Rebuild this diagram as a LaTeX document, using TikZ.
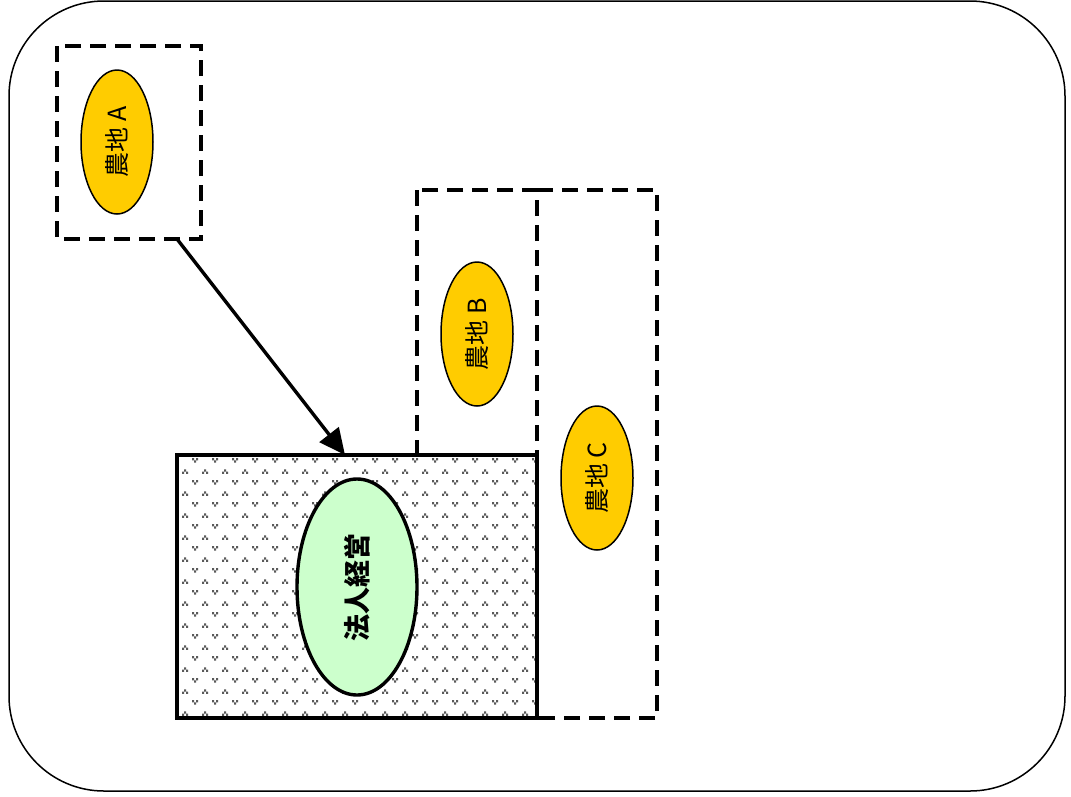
\documentclass[tikz,border=0pt]{standalone}
\usepackage{fontspec}
\newfontfamily\cjk{Noto Sans CJK JP}
\usetikzlibrary{patterns,arrows.meta,shapes.geometric}
\pgfdeclarepatternformonly{tridots}{\pgfqpoint{-1pt}{-1pt}}{\pgfqpoint{21pt}{23pt}}{\pgfqpoint{20pt}{22pt}}{%
  \pgfpathrectangle{\pgfqpoint{4pt}{16.4pt}}{\pgfqpoint{2.2pt}{2.2pt}}%
  \pgfpathrectangle{\pgfqpoint{2pt}{14.2pt}}{\pgfqpoint{2.2pt}{2.2pt}}%
  \pgfpathrectangle{\pgfqpoint{6pt}{14.2pt}}{\pgfqpoint{2.2pt}{2.2pt}}%
  \pgfpathrectangle{\pgfqpoint{12pt}{5.6pt}}{\pgfqpoint{2.2pt}{2.2pt}}%
  \pgfpathrectangle{\pgfqpoint{16pt}{5.6pt}}{\pgfqpoint{2.2pt}{2.2pt}}%
  \pgfpathrectangle{\pgfqpoint{14pt}{3.4pt}}{\pgfqpoint{2.2pt}{2.2pt}}%
  \pgfusepath{fill}}
\definecolor{farm}{HTML}{FFCC00}
\definecolor{corp}{HTML}{CCFFCC}
\tikzset{
  frame/.style={draw=black, line width=1.5pt, rounded corners=95pt},
  dashbox/.style={draw=black, line width=3.6pt, dash pattern=on 16pt off 9pt},
  farmnode/.style={ellipse, draw=black, line width=1.5pt, fill=farm, minimum width=72pt, minimum height=144pt, inner sep=0pt},
  farmtext/.style={font=\cjk\fontsize{25}{28}\selectfont, rotate=90},
  corpbox/.style={draw=black, line width=3.6pt, pattern=tridots, pattern color=black!65},
  corpnode/.style={ellipse, draw=black, line width=3.4pt, fill=corp, minimum width=120pt, minimum height=216pt, inner sep=0pt},
  corptext/.style={font=\cjk\bfseries\fontsize{27}{30}\selectfont, rotate=90},
  arr/.style={line width=3.4pt, -{Triangle[length=26pt,width=24pt]}}
}
\begin{document}
\begin{tikzpicture}[x=1pt,y=-1pt]
\useasboundingbox (0,0) rectangle (1071,796);
\fill[white] (0,0) rectangle (1071,796);
\draw[frame] (9,1) rectangle (1065,791);
% farmland A
\draw[dashbox] (57,46) rectangle (201,239);
\node[farmnode] (A) at (117,142) {};
\node[farmtext] at (A) {農地 A};
% farmland B and C boxes
\draw[dashbox] (417,190) rectangle (537,718);
\draw[dashbox] (537,190) -- (657,190) -- (657,718) -- (537,718);
\node[farmnode] (B) at (477,334) {};
\node[farmtext] at (B) {農地 B};
\node[farmnode] (C) at (597,478) {};
\node[farmtext] at (C) {農地 C};
% corporation
\fill[white] (177,455) rectangle (537,718);
\draw[corpbox] (177,455) rectangle (537,718);
\coordinate (boxA) at (177,239);
\coordinate (boxCorp) at (345,455);
\node[corpnode] (P) at (357,587) {};
\node[corptext] at (P) {法人経営};
\draw[arr] (boxA) -- (boxCorp);
\end{tikzpicture}
\end{document}
